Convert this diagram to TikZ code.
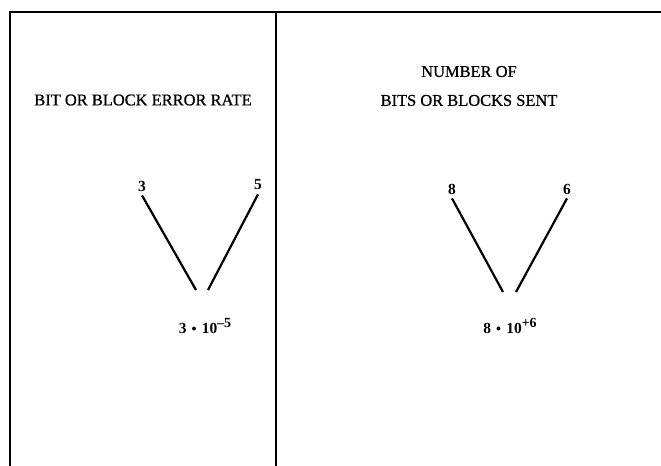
\documentclass[tikz,border=0pt]{standalone}
\usepackage{fontspec}
\setmainfont{Liberation Serif}
\newfontfamily\heavy[FakeBold=0.8]{Liberation Serif}
\newcommand{\supx}[1]{\raisebox{6bp}{\fontsize{14}{16}\selectfont #1}}
\newcommand{\dotx}{\raisebox{2bp}{\fontsize{10}{10}\selectfont$\bullet$}}
\begin{document}
\begin{tikzpicture}[x=1bp,y=-1bp,
  frame/.style={line width=1.5bp},
  stroke/.style={line width=2.2bp},
  lbl/.style={font=\heavy\fontsize{16.5}{29}\selectfont, inner sep=0pt, align=center},
  num/.style={font=\fontsize{15.5}{18}\selectfont\bfseries, inner sep=0pt}]
\useasboundingbox (0,0) rectangle (661,466);
\coordinate (tl) at (10,12);
\coordinate (tr) at (661,12);
\coordinate (bl) at (10,466);
\coordinate (mt) at (276,12);
\coordinate (mb) at (276,466);
\draw[frame] (bl) -- (tl) -- (tr);
\draw[frame] (mt) -- (mb);
\node[lbl] (t1) at (143,100) {BIT OR BLOCK ERROR RATE};
\node[lbl] (t2) at (469,86) {NUMBER OF\\BITS OR BLOCKS SENT};
% left panel
\node[num] (a3) at (142,186) {3};
\node[num] (a5) at (258,185) {5};
\coordinate (a3e) at (196,290);
\coordinate (a5e) at (208,290);
\draw[stroke] (a3.south) ++(0,4) -- (a3e);
\draw[stroke] (a5.south) ++(0,4) -- (a5e);
\node[num] (f1) at (205,326) {3\,\,\dotx\,\,10\supx{--5}};
% right panel
\node[num] (b8) at (452,189) {8};
\node[num] (b6) at (567,189) {6};
\coordinate (b8e) at (503,292);
\coordinate (b6e) at (516,292);
\draw[stroke] (b8.south) ++(0,4) -- (b8e);
\draw[stroke] (b6.south) ++(0,4) -- (b6e);
\node[num] (f2) at (510,326) {8\,\,\dotx\,\,10\supx{+6}};
\end{tikzpicture}
\end{document}
